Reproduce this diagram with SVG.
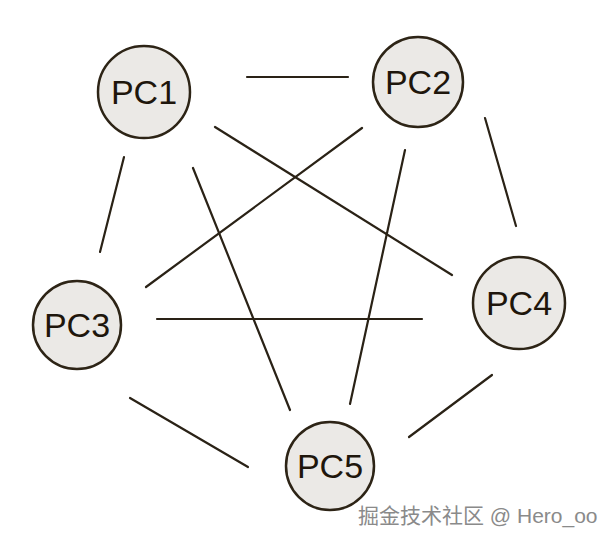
<svg xmlns="http://www.w3.org/2000/svg" width="610" height="542" viewBox="0 0 610 542">
<style>
.node circle{fill:#ebe9e6;stroke:#2d2416;stroke-width:2.5}
.node text{font-family:"Liberation Sans",sans-serif;font-size:34px;fill:#1e160c;text-anchor:middle;font-weight:normal}
#edges line{stroke:#2a2216;stroke-width:2.2;stroke-linecap:round}
.wm{font-family:"Liberation Sans","Noto Sans CJK SC",sans-serif;font-size:21px;fill:#8a8a8a;stroke:#ffffff;stroke-width:0.6;paint-order:stroke}
</style>
<rect width="610" height="542" fill="#ffffff"/>
<g id="edges">
<line x1="247" y1="77" x2="348" y2="77"/>
<line x1="215" y1="127" x2="452" y2="275"/>
<line x1="193" y1="168" x2="290" y2="410"/>
<line x1="124" y1="157" x2="100" y2="252"/>
<line x1="362" y1="128" x2="146" y2="287"/>
<line x1="405" y1="150" x2="350" y2="404"/>
<line x1="485" y1="118" x2="516" y2="226"/>
<line x1="157" y1="319" x2="422" y2="319"/>
<line x1="130" y1="398" x2="248" y2="467"/>
<line x1="492" y1="375" x2="409" y2="437"/>
</g>
<g id="pc1" class="node"><circle cx="144" cy="92" r="46"/><text x="144" y="104">PC1</text></g>
<g id="pc2" class="node"><circle cx="418" cy="82" r="45"/><text x="418" y="94">PC2</text></g>
<g id="pc3" class="node"><circle cx="77" cy="325" r="44"/><text x="77" y="337">PC3</text></g>
<g id="pc4" class="node"><circle cx="519" cy="303" r="46"/><text x="519" y="315">PC4</text></g>
<g id="pc5" class="node"><circle cx="330" cy="466" r="44"/><text x="330" y="478">PC5</text></g>
<text class="wm" x="358" y="523">掘金技术社区 @ Hero_oo</text>
</svg>
